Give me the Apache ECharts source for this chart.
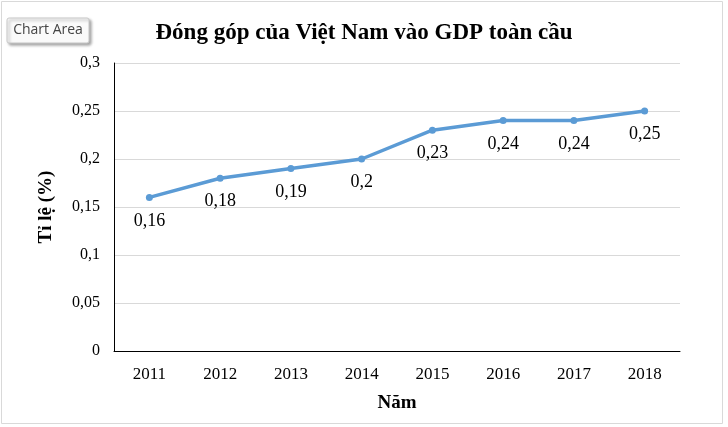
<!DOCTYPE html>
<html><head><meta charset="utf-8">
<script src="https://cdn.jsdelivr.net/npm/echarts@6/dist/echarts.min.js"></script>
<style>html,body{margin:0;padding:0;background:#fff}#c{width:728px;height:427px}</style>
</head><body><div id="c"></div>
<script>
const titleText = 'Đóng góp của Việt Nam vào GDP toàn cầu';
const years = ['2011','2012','2013','2014','2015','2016','2017','2018'];
const shares = [0.16, 0.18, 0.19, 0.2, 0.23, 0.24, 0.24, 0.25];
const yName = 'Tỉ lệ (%)';
const xName = 'Năm';
const fmt = v => String(v).replace('.', ',');
const serif = '"Liberation Serif", "DejaVu Serif", serif';
const chart = echarts.init(document.getElementById('c'));
chart.setOption({
  animation: false,
  title: { text: titleText, left: 'center', top: 17,
    textStyle: { fontFamily: serif, fontWeight: 'bold', fontSize: 23, color: '#000' } },
  grid: { left: 114, right: 48, top: 63, bottom: 76 },
  xAxis: { type: 'category', data: years, boundaryGap: true,
    name: xName, nameLocation: 'middle', nameGap: 43,
    nameTextStyle: { fontFamily: serif, fontWeight: 'bold', fontSize: 19, color: '#000' },
    axisLine: { lineStyle: { color: '#000', width: 1 } },
    axisTick: { show: false },
    axisLabel: { fontFamily: serif, fontSize: 17, color: '#000', margin: 15 } },
  yAxis: { type: 'value', min: 0, max: 0.3, interval: 0.05,
    name: yName, nameLocation: 'middle', nameGap: 58, nameRotate: 90,
    nameTextStyle: { fontFamily: serif, fontWeight: 'bold', fontSize: 19, color: '#000' },
    axisLine: { show: true, lineStyle: { color: '#000', width: 1 } },
    axisTick: { show: false },
    splitLine: { lineStyle: { color: '#d9d9d9' } },
    axisLabel: { fontFamily: serif, fontSize: 16, color: '#000', margin: 14,
      formatter: v => fmt(Math.round(v*100)/100) } },
  series: [{ type: 'line', data: shares, color: '#5b9bd5',
    lineStyle: { width: 3.5, color: '#5b9bd5' },
    symbol: 'circle', symbolSize: 7,
    itemStyle: { color: '#5b9bd5' },
    label: { show: true, position: 'bottom', distance: 11,
      fontFamily: serif, fontSize: 18, color: '#000', formatter: p => fmt(p.value) } }],
  graphic: [
    { type: 'rect', shape: { x: 1.5, y: 1.5, width: 721, height: 422 },
      style: { fill: 'none', stroke: '#d9d9d9', lineWidth: 1 }, silent: true },
    { type: 'rect', shape: { x: 7, y: 18, width: 82, height: 25, r: 2 },
      style: { fill: '#fafafa', stroke: '#c8c8c8', lineWidth: 1,
        shadowColor: 'rgba(0,0,0,0.35)', shadowBlur: 3, shadowOffsetX: 2, shadowOffsetY: 2 } },
    { type: 'text', x: 48, y: 30.5,
      style: { text: 'Chart Area', fontFamily: '"Open Sans", "Noto Sans", sans-serif', fontSize: 14,
        fill: '#444', align: 'center', verticalAlign: 'middle' } }
  ]
});
</script></body></html>
